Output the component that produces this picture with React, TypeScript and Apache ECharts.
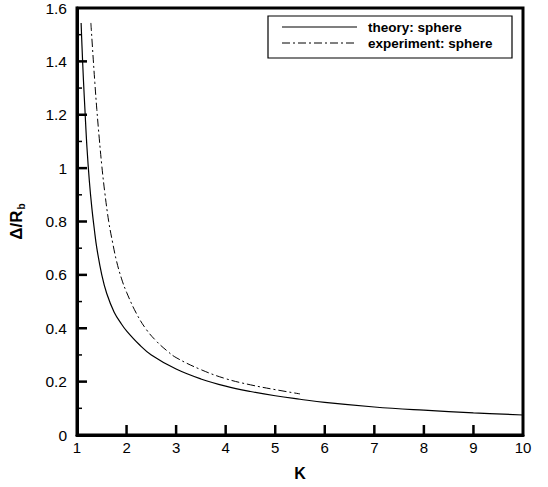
import React, { useEffect, useRef } from "react";
import * as echarts from "echarts";

const theoryK = [1.083, 1.1, 1.13, 1.16, 1.2, 1.25, 1.3, 1.35, 1.4, 1.5, 1.6, 1.75, 1.9, 2.0, 2.25, 2.5, 3.0, 3.5, 4.0, 4.5, 5.0, 5.5, 6.0, 7.0, 8.0, 9.0, 10.0];
const theoryV = [1.544, 1.46, 1.33, 1.22, 1.08, 0.95, 0.85, 0.77, 0.7, 0.6, 0.53, 0.46, 0.415, 0.39, 0.34, 0.3, 0.247, 0.21, 0.183, 0.163, 0.147, 0.134, 0.122, 0.105, 0.093, 0.083, 0.075];

const expK = [1.28, 1.32, 1.36, 1.4, 1.45, 1.5, 1.56, 1.64, 1.72, 1.8, 1.9, 2.0, 2.2, 2.4, 2.6, 2.8, 3.0, 3.5, 4.0, 4.5, 5.0, 5.5];
const expV = [1.544, 1.43, 1.32, 1.22, 1.11, 1.01, 0.91, 0.8, 0.72, 0.65, 0.585, 0.535, 0.455, 0.395, 0.352, 0.318, 0.29, 0.245, 0.211, 0.188, 0.17, 0.154];

const xTicks = [2, 3, 4, 5, 6, 7, 8, 9];
const yTicks = [0.2, 0.4, 0.6, 0.8, 1.0, 1.2, 1.4];
const yMinorTicks = [0.1, 0.3, 0.5, 0.7, 0.9, 1.1, 1.3, 1.5];

const legendNames = ["theory: sphere", "experiment: sphere"];
const xName = "K";
const X_MIN = 1, X_MAX = 10, Y_MIN = 0, Y_MAX = 1.6;

const FONT = "'Liberation Sans', Arial, Helvetica, sans-serif";

function tickSeries(values: number[], dir: "x" | "y", len: number, width: number) {
  return {
    type: "custom",
    silent: true,
    z: 5,
    data: values.map((v) => (dir === "x" ? [v, Y_MIN] : [X_MIN, v])),
    encode: { x: 0, y: 1 },
    renderItem: (params: any, api: any) => {
      const p = api.coord([api.value(0), api.value(1)]);
      const shape =
        dir === "x"
          ? { x1: p[0], y1: p[1], x2: p[0], y2: p[1] - len }
          : { x1: p[0], y1: p[1], x2: p[0] + len, y2: p[1] };
      return { type: "line", shape, style: { stroke: "#000", lineWidth: width } };
    },
  };
}

export default function App() {
  const ref = useRef<HTMLDivElement>(null);
  useEffect(() => {
    document.body.style.margin = "0";
    const chart = echarts.init(ref.current!, null, { renderer: "svg" });
    const gridLeft = 72, gridRight = 25, gridTop = 8, gridBottom = 52;
    const lx = 268, ly = 16, lw = 244, lh = 42;
    chart.setOption({
      animation: false,
      backgroundColor: "#fff",
      textStyle: { fontFamily: FONT },
      grid: {
        left: gridLeft,
        right: gridRight,
        top: gridTop,
        bottom: gridBottom,
        show: true,
        borderColor: "#000",
        borderWidth: 3,
      },
      xAxis: {
        type: "value",
        min: X_MIN,
        max: X_MAX,
        interval: 1,
        name: xName,
        nameLocation: "middle",
        nameGap: 30,
        nameTextStyle: { fontFamily: FONT, fontWeight: "bold", fontSize: 16, color: "#000" },
        axisLine: { show: true, onZero: false, lineStyle: { color: "#000", width: 3 } },
        axisTick: { show: false },
        axisLabel: { fontFamily: FONT, fontSize: 15, color: "#000", margin: 5 },
        splitLine: { show: false },
      },
      yAxis: {
        type: "value",
        min: Y_MIN,
        max: Y_MAX,
        interval: 0.2,
        name: "{a|Δ/R}{b|b}",
        nameLocation: "middle",
        nameRotate: 90,
        nameGap: 51,
        nameTextStyle: {
          fontFamily: FONT,
          color: "#000",
          rich: {
            a: { fontFamily: FONT, fontWeight: "bold", fontSize: 17, color: "#000", lineHeight: 18, verticalAlign: "top" },
            b: { fontFamily: FONT, fontWeight: "bold", fontSize: 10, color: "#000", lineHeight: 10, verticalAlign: "bottom", padding: [8, 0, 0, 1] },
          },
        },
        axisLine: { show: true, onZero: false, lineStyle: { color: "#000", width: 3 } },
        axisTick: { show: false },
        axisLabel: { fontFamily: FONT, fontSize: 15.5, color: "#000", margin: 10 },
        splitLine: { show: false },
        minorSplitLine: { show: false },
      },
      series: [
        {
          name: legendNames[0],
          type: "line",
          data: theoryK.map((k, i) => [k, theoryV[i]]),
          showSymbol: false,
          symbol: "none",
          smooth: 0.4,
          lineStyle: { color: "#000", width: 1.2, type: "solid" },
        },
        {
          name: legendNames[1],
          type: "line",
          data: expK.map((k, i) => [k, expV[i]]),
          showSymbol: false,
          symbol: "none",
          smooth: 0.4,
          lineStyle: { color: "#000", width: 1, type: [8, 3, 2, 3] },
        },
        tickSeries(xTicks, "x", 10, 2.5),
        tickSeries(yTicks, "y", 10, 2.5),
        tickSeries(yMinorTicks, "y", 5, 1.5),
      ],
      graphic: [
        {
          type: "rect",
          shape: { x: lx, y: ly, width: lw, height: lh },
          style: { fill: "#fff", stroke: "#000", lineWidth: 1.2 },
          z: 100,
        },
        {
          type: "line",
          shape: { x1: lx + 14, y1: ly + 11, x2: lx + 89, y2: ly + 11 },
          style: { stroke: "#000", lineWidth: 1.2 },
          z: 101,
        },
        {
          type: "line",
          shape: { x1: lx + 14, y1: ly + 27, x2: lx + 89, y2: ly + 27 },
          style: { stroke: "#000", lineWidth: 1, lineDash: [8, 3, 2, 3] },
          z: 101,
        },
        {
          type: "text",
          x: lx + 100,
          y: ly + 11,
          style: { text: legendNames[0], font: `bold 13.5px ${FONT}`, fill: "#000", verticalAlign: "middle" },
          z: 101,
        },
        {
          type: "text",
          x: lx + 100,
          y: ly + 27,
          style: { text: legendNames[1], font: `bold 13.5px ${FONT}`, fill: "#000", verticalAlign: "middle" },
          z: 101,
        },
      ],
    });
    return () => chart.dispose();
  }, []);
  return <div ref={ref} style={{ width: 548, height: 487 }} />;
}
